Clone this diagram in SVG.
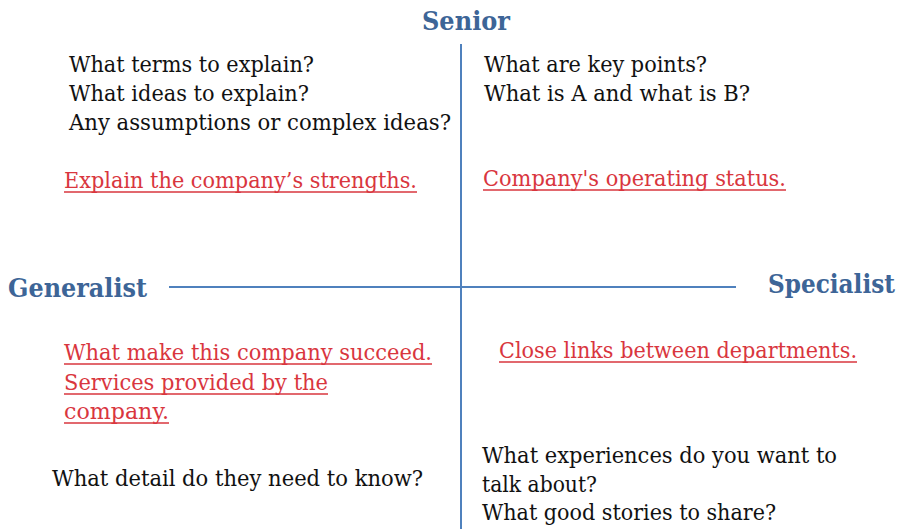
<svg xmlns="http://www.w3.org/2000/svg" width="909" height="529" viewBox="0 0 909 529">
<style>
.t{font-family:"DejaVu Serif","Liberation Serif",serif;font-size:22px;fill:#111}
.r{font-family:"DejaVu Serif","Liberation Serif",serif;font-size:22px;fill:#d9363e}
.u{stroke:#d9363e;stroke-width:1.6}
.h{font-family:"DejaVu Serif","Liberation Serif",serif;font-size:26px;font-weight:bold;fill:#3d6597}
.ax{stroke:#4f81bd;stroke-width:2;fill:none}
</style>
<rect width="909" height="529" fill="#fff"/>
<g id="axes">
<line class="ax" x1="461" y1="44" x2="461" y2="529"/>
<line class="ax" x1="169" y1="287" x2="736" y2="287"/>
</g>
<g id="senior"><text class="h" x="422" y="30" textLength="88" lengthAdjust="spacingAndGlyphs">Senior</text></g>
<g id="generalist"><text class="h" x="8" y="297" textLength="139" lengthAdjust="spacingAndGlyphs">Generalist</text></g>
<g id="specialist"><text class="h" x="768" y="293" textLength="127" lengthAdjust="spacingAndGlyphs">Specialist</text></g>
<g id="q-top-left">
<text class="t" x="69" y="72" textLength="245" lengthAdjust="spacingAndGlyphs">What terms to explain?</text>
<text class="t" x="69" y="101" textLength="240" lengthAdjust="spacingAndGlyphs">What ideas to explain?</text>
<text class="t" x="69" y="130" textLength="382" lengthAdjust="spacingAndGlyphs">Any assumptions or complex ideas?</text>
<text class="r" x="64" y="188" textLength="353" lengthAdjust="spacingAndGlyphs">Explain the company’s strengths.</text>
<line class="u" x1="64" y1="192" x2="417" y2="192"/>
</g>
<g id="q-top-right">
<text class="t" x="484" y="72" textLength="223" lengthAdjust="spacingAndGlyphs">What are key points?</text>
<text class="t" x="484" y="101" textLength="266" lengthAdjust="spacingAndGlyphs">What is A and what is B?</text>
<text class="r" x="483" y="186" textLength="303" lengthAdjust="spacingAndGlyphs">Company's operating status.</text>
<line class="u" x1="483" y1="190" x2="786" y2="190"/>
</g>
<g id="q-bottom-left">
<text class="r" x="64" y="360" textLength="368" lengthAdjust="spacingAndGlyphs">What make this company succeed.</text>
<line class="u" x1="64" y1="364" x2="432" y2="364"/>
<text class="r" x="64" y="390" textLength="264" lengthAdjust="spacingAndGlyphs">Services provided by the</text>
<line class="u" x1="64" y1="394" x2="328" y2="394"/>
<text class="r" x="64" y="419" textLength="105" lengthAdjust="spacingAndGlyphs">company.</text>
<line class="u" x1="64" y1="423" x2="169" y2="423"/>
<text class="t" x="52" y="486" textLength="371" lengthAdjust="spacingAndGlyphs">What detail do they need to know?</text>
</g>
<g id="q-bottom-right">
<text class="r" x="499" y="358" textLength="358" lengthAdjust="spacingAndGlyphs">Close links between departments.</text>
<line class="u" x1="499" y1="362" x2="857" y2="362"/>
<text class="t" x="482" y="463" textLength="355" lengthAdjust="spacingAndGlyphs">What experiences do you want to</text>
<text class="t" x="482" y="492" textLength="115" lengthAdjust="spacingAndGlyphs">talk about?</text>
<text class="t" x="482" y="520" textLength="294" lengthAdjust="spacingAndGlyphs">What good stories to share?</text>
</g>
</svg>
